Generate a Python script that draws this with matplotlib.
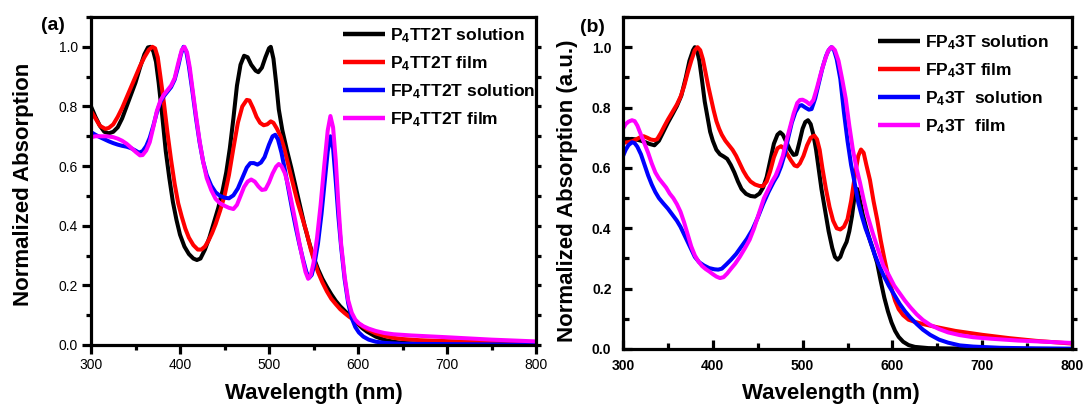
import numpy as np
import matplotlib
matplotlib.use("Agg")
import matplotlib.pyplot as plt
from matplotlib.ticker import MultipleLocator

plt.rcParams['font.family'] = ['Liberation Sans', 'DejaVu Sans']
plt.rcParams['mathtext.fontset'] = 'custom'
plt.rcParams['mathtext.rm'] = 'Liberation Sans:bold'
plt.rcParams['mathtext.bf'] = 'Liberation Sans:bold'
plt.rcParams['mathtext.it'] = 'Liberation Sans:bold'
plt.rcParams['mathtext.default'] = 'bf'

# ---------------- panel (a): P4TT2T / FP4TT2T ----------------
a_black_wl = [300, 305, 310, 315, 320, 325, 330, 335, 340, 345, 350, 355, 360, 364, 367, 370, 373, 376,
              380, 384, 388, 392, 396, 400, 405, 410, 415, 419, 423, 428, 433, 438, 443, 448, 452, 456,
              460, 464, 468, 472, 476, 480, 485, 488, 492, 496, 500, 502, 505, 508, 511, 515, 520, 525,
              530, 535, 540, 545, 550, 555, 560, 565, 570, 575, 580, 585, 590, 595, 600, 605, 610, 620,
              630, 640, 650, 670, 700, 750, 800]
a_black_ab = [0.80, 0.765, 0.735, 0.715, 0.71, 0.715, 0.73, 0.76, 0.80, 0.84, 0.88, 0.93, 0.975, 0.998, 1.0,
              0.985, 0.95, 0.88, 0.77, 0.65, 0.56, 0.48, 0.42, 0.37, 0.33, 0.305, 0.29, 0.285, 0.29, 0.32,
              0.36, 0.41, 0.46, 0.52, 0.58, 0.66, 0.76, 0.87, 0.94, 0.97, 0.965, 0.94, 0.92, 0.915, 0.93,
              0.965, 0.995, 1.0, 0.96, 0.88, 0.79, 0.72, 0.655, 0.595, 0.53, 0.465, 0.40, 0.345, 0.295,
              0.255, 0.222, 0.195, 0.17, 0.148, 0.13, 0.115, 0.10, 0.085, 0.07, 0.056, 0.045, 0.028, 0.017,
              0.011, 0.007, 0.004, 0.002, 0.001, 0.0]

a_red_wl = [300, 305, 310, 316, 320, 325, 330, 335, 340, 345, 350, 355, 360, 365, 369, 372, 375, 378, 382,
            386, 390, 394, 398, 402, 406, 410, 415, 420, 424, 428, 432, 436, 440, 445, 450, 455, 460, 465,
            470, 475, 478, 482, 486, 490, 494, 498, 502, 505, 509, 513, 517, 522, 527, 532, 537, 542, 547,
            551, 555, 560, 565, 570, 575, 580, 585, 590, 595, 600, 605, 610, 620, 630, 640, 650, 670, 700,
            750, 800]
a_red_ab = [0.785, 0.76, 0.735, 0.725, 0.728, 0.74, 0.765, 0.795, 0.83, 0.865, 0.90, 0.935, 0.965, 0.99, 1.0,
            0.995, 0.965, 0.90, 0.81, 0.71, 0.62, 0.54, 0.475, 0.43, 0.39, 0.36, 0.335, 0.32, 0.32, 0.33,
            0.35, 0.375, 0.405, 0.45, 0.50, 0.57, 0.66, 0.745, 0.80, 0.822, 0.82, 0.795, 0.765, 0.745,
            0.737, 0.74, 0.75, 0.745, 0.725, 0.70, 0.66, 0.60, 0.54, 0.48, 0.43, 0.38, 0.32, 0.28, 0.245,
            0.21, 0.18, 0.155, 0.137, 0.12, 0.107, 0.095, 0.085, 0.073, 0.063, 0.053, 0.039, 0.03, 0.024,
            0.02, 0.016, 0.013, 0.01, 0.008]

a_blue_wl = [300, 305, 310, 315, 320, 325, 330, 335, 340, 345, 350, 354, 358, 362, 366, 370, 374, 378, 382,
             386, 390, 394, 398, 401, 404, 407, 410, 414, 418, 422, 426, 430, 435, 440, 445, 450, 455, 460,
             465, 470, 475, 479, 483, 487, 491, 495, 500, 504, 507, 510, 514, 518, 522, 526, 530, 534, 538,
             542, 545, 548, 551, 555, 559, 563, 566, 569, 572, 575, 578, 581, 585, 589, 593, 597, 601, 606,
             612, 620, 630, 650, 700, 750, 800]
a_blue_ab = [0.714, 0.705, 0.697, 0.69, 0.683, 0.677, 0.672, 0.668, 0.665, 0.66, 0.652, 0.645, 0.65, 0.667,
             0.695, 0.735, 0.78, 0.815, 0.835, 0.85, 0.865, 0.89, 0.935, 0.975, 1.0, 0.985, 0.935, 0.85,
             0.76, 0.68, 0.615, 0.57, 0.535, 0.512, 0.50, 0.494, 0.492, 0.502, 0.525, 0.56, 0.595, 0.61,
             0.61, 0.605, 0.612, 0.63, 0.672, 0.70, 0.705, 0.69, 0.645, 0.585, 0.52, 0.455, 0.395, 0.34,
             0.29, 0.245, 0.225, 0.235, 0.27, 0.34, 0.44, 0.56, 0.65, 0.70, 0.66, 0.55, 0.43, 0.33, 0.22,
             0.14, 0.09, 0.06, 0.042, 0.028, 0.018, 0.011, 0.007, 0.004, 0.003, 0.002, 0.001]

a_mag_wl = [300, 305, 310, 318, 325, 330, 335, 340, 345, 350, 355, 358, 362, 366, 370, 374, 378, 382, 386,
            390, 394, 398, 402, 405, 408, 411, 414, 418, 422, 426, 430, 435, 440, 445, 450, 455, 460, 464,
            468, 472, 476, 480, 484, 488, 492, 496, 500, 504, 508, 511, 514, 518, 522, 526, 530, 534, 538,
            541, 544, 547, 550, 554, 558, 562, 566, 569, 572, 575, 578, 581, 585, 589, 593, 597, 601, 606,
            612, 620, 630, 640, 660, 700, 750, 800]
a_mag_ab = [0.697, 0.70, 0.70, 0.70, 0.697, 0.692, 0.685, 0.675, 0.662, 0.648, 0.636, 0.637, 0.652, 0.68,
            0.73, 0.785, 0.82, 0.84, 0.855, 0.87, 0.895, 0.945, 0.99, 1.0, 0.98, 0.93, 0.86, 0.77, 0.685,
            0.615, 0.56, 0.52, 0.49, 0.475, 0.467, 0.46, 0.456, 0.47, 0.50, 0.53, 0.548, 0.555, 0.548,
            0.532, 0.52, 0.522, 0.545, 0.575, 0.598, 0.607, 0.60, 0.575, 0.53, 0.47, 0.41, 0.345, 0.285,
            0.245, 0.222, 0.235, 0.275, 0.36, 0.47, 0.60, 0.72, 0.768, 0.73, 0.62, 0.47, 0.34, 0.23, 0.15,
            0.108, 0.085, 0.073, 0.063, 0.055, 0.047, 0.04, 0.036, 0.032, 0.026, 0.018, 0.012]

# ---------------- panel (b): FP43T / P43T ----------------
b_black_wl = [300, 305, 310, 315, 320, 325, 330, 335, 340, 345, 350, 355, 360, 365, 370, 374, 378, 380, 382,
              385, 388, 391, 394, 397, 400, 404, 408, 412, 416, 420, 424, 428, 432, 437, 442, 447, 452, 456,
              460, 464, 468, 472, 475, 478, 482, 486, 490, 493, 496, 500, 503, 506, 509, 512, 515, 518, 521,
              525, 529, 533, 536, 539, 542, 545, 549, 552, 555, 558, 561, 564, 567, 571, 575, 579, 583, 587,
              591, 595, 599, 603, 607, 612, 618, 625, 640, 660, 700, 800]
b_black_ab = [0.694, 0.695, 0.696, 0.694, 0.69, 0.685, 0.679, 0.675, 0.69, 0.72, 0.75, 0.777, 0.805, 0.84,
              0.90, 0.955, 0.99, 1.0, 0.995, 0.955, 0.89, 0.82, 0.77, 0.72, 0.69, 0.66, 0.645, 0.638, 0.63,
              0.61, 0.585, 0.555, 0.53, 0.514, 0.507, 0.505, 0.515, 0.535, 0.57, 0.625, 0.68, 0.71, 0.718,
              0.71, 0.685, 0.66, 0.643, 0.645, 0.68, 0.73, 0.752, 0.758, 0.745, 0.71, 0.66, 0.595, 0.53,
              0.46, 0.39, 0.335, 0.305, 0.296, 0.305, 0.33, 0.355, 0.39, 0.44, 0.51, 0.53, 0.49, 0.445, 0.40,
              0.36, 0.325, 0.285, 0.225, 0.17, 0.125, 0.088, 0.06, 0.04, 0.024, 0.013, 0.007, 0.003, 0.002,
              0.001, 0.0]

b_red_wl = [300, 305, 310, 315, 320, 323, 327, 331, 335, 338, 342, 346, 350, 355, 360, 364, 368, 372, 376,
            380, 383, 386, 389, 392, 395, 398, 401, 404, 407, 410, 414, 418, 422, 426, 430, 434, 438, 442,
            447, 452, 456, 460, 464, 468, 472, 476, 479, 483, 487, 491, 494, 497, 501, 505, 509, 513, 516,
            519, 522, 526, 530, 534, 538, 542, 546, 550, 554, 558, 562, 565, 568, 571, 575, 579, 583, 587,
            591, 595, 599, 603, 607, 612, 618, 625, 635, 650, 670, 700, 730, 760, 800]
b_red_ab = [0.683, 0.685, 0.688, 0.695, 0.703, 0.705, 0.70, 0.694, 0.692, 0.695, 0.715, 0.738, 0.76, 0.785,
            0.81, 0.835, 0.87, 0.915, 0.955, 0.99, 1.0, 0.99, 0.96, 0.915, 0.87, 0.83, 0.79, 0.755, 0.73,
            0.71, 0.69, 0.675, 0.66, 0.64, 0.615, 0.59, 0.57, 0.555, 0.545, 0.54, 0.54, 0.555, 0.59, 0.635,
            0.665, 0.672, 0.665, 0.645, 0.625, 0.608, 0.605, 0.615, 0.64, 0.675, 0.70, 0.707, 0.695, 0.66,
            0.60, 0.53, 0.47, 0.425, 0.40, 0.396, 0.405, 0.43, 0.49, 0.57, 0.64, 0.661, 0.65, 0.61, 0.56,
            0.49, 0.43, 0.36, 0.30, 0.245, 0.20, 0.16, 0.132, 0.112, 0.097, 0.09, 0.082, 0.072, 0.06, 0.047,
            0.036, 0.027, 0.018]

b_blue_wl = [300, 303, 306, 310, 313, 316, 320, 324, 328, 332, 336, 340, 345, 350, 355, 360, 364, 368, 372,
             376, 380, 385, 390, 396, 402, 406, 410, 415, 420, 426, 432, 438, 444, 450, 456, 462, 468, 472,
             476, 480, 484, 488, 492, 496, 499, 503, 507, 510, 514, 518, 522, 526, 529, 532, 535, 538, 542,
             546, 550, 554, 558, 562, 566, 570, 575, 580, 585, 590, 596, 602, 608, 614, 620, 627, 634, 642,
             652, 662, 675, 690, 720, 760, 800]
b_blue_ab = [0.639, 0.66, 0.675, 0.685, 0.682, 0.67, 0.645, 0.61, 0.575, 0.545, 0.52, 0.50, 0.482, 0.465,
             0.445, 0.425, 0.405, 0.38, 0.355, 0.33, 0.305, 0.287, 0.277, 0.268, 0.264, 0.263, 0.266, 0.28,
             0.295, 0.315, 0.34, 0.365, 0.395, 0.435, 0.48, 0.52, 0.555, 0.575, 0.605, 0.645, 0.70, 0.75,
             0.785, 0.805, 0.808, 0.80, 0.793, 0.795, 0.83, 0.88, 0.93, 0.97, 0.99, 1.0, 0.99, 0.96, 0.895,
             0.785, 0.69, 0.61, 0.55, 0.485, 0.44, 0.40, 0.36, 0.315, 0.278, 0.245, 0.21, 0.18, 0.15, 0.125,
             0.104, 0.083, 0.064, 0.047, 0.031, 0.021, 0.012, 0.008, 0.004, 0.002, 0.001]

b_mag_wl = [300, 303, 306, 310, 313, 316, 320, 324, 328, 332, 336, 340, 344, 348, 352, 356, 360, 364, 368,
            372, 376, 380, 384, 388, 392, 396, 400, 404, 408, 412, 416, 420, 425, 430, 436, 441, 446, 452,
            457, 462, 466, 470, 474, 478, 482, 486, 490, 494, 497, 500, 504, 508, 512, 516, 520, 524, 528,
            531, 533, 536, 540, 544, 548, 552, 556, 560, 564, 568, 572, 578, 584, 590, 596, 602, 608, 614,
            620, 627, 634, 642, 652, 662, 675, 690, 710, 740, 770, 800]
b_mag_ab = [0.73, 0.745, 0.753, 0.758, 0.755, 0.74, 0.71, 0.68, 0.65, 0.615, 0.585, 0.565, 0.55, 0.535,
            0.515, 0.50, 0.48, 0.455, 0.42, 0.38, 0.34, 0.31, 0.29, 0.275, 0.265, 0.257, 0.248, 0.24, 0.235,
            0.238, 0.25, 0.265, 0.283, 0.305, 0.335, 0.362, 0.40, 0.455, 0.50, 0.53, 0.555, 0.575, 0.605,
            0.64, 0.69, 0.735, 0.78, 0.815, 0.825, 0.826, 0.82, 0.81, 0.825, 0.865, 0.91, 0.95, 0.985,
            0.998, 1.0, 0.99, 0.955, 0.895, 0.83, 0.74, 0.66, 0.60, 0.55, 0.495, 0.445, 0.385, 0.33, 0.275,
            0.245, 0.21, 0.185, 0.16, 0.138, 0.115, 0.096, 0.08, 0.066, 0.055, 0.046, 0.039, 0.034, 0.028,
            0.024, 0.02]

labels_a = [r'P$_4$TT2T solution', r'P$_4$TT2T film', r'FP$_4$TT2T solution', r'FP$_4$TT2T film']
labels_b = [r'FP$_4$3T solution', r'FP$_4$3T film', r'P$_4$3T  solution', r'P$_4$3T  film']
colors = ['#000000', '#ff0000', '#0000ff', '#ff00ff']

W, H = 1084, 408
fig = plt.figure(figsize=(W / 100, H / 100), dpi=100)
ax_a = fig.add_axes([91 / W, (H - 345) / H, 445 / W, 328 / H])
ax_b = fig.add_axes([623 / W, (H - 349) / H, 449 / W, 332 / H])

LW = 2.9
SPW = 2.3

series_a = [(a_black_wl, a_black_ab), (a_red_wl, a_red_ab), (a_blue_wl, a_blue_ab), (a_mag_wl, a_mag_ab)]
series_b = [(b_black_wl, b_black_ab), (b_red_wl, b_red_ab), (b_blue_wl, b_blue_ab), (b_mag_wl, b_mag_ab)]

for ax, series, labels in ((ax_a, series_a, labels_a), (ax_b, series_b, labels_b)):
    for (wl, ab), c, lab in zip(series, colors, labels):
        ax.plot(wl, ab, color=c, lw=LW, label=lab, solid_joinstyle='round', solid_capstyle='butt')
    ax.set_xlim(300, 800)
    ax.set_ylim(0, 1.1)
    ax.xaxis.set_major_locator(MultipleLocator(100))
    ax.xaxis.set_minor_locator(MultipleLocator(50))
    ax.set_yticks([0.0, 0.2, 0.4, 0.6, 0.8, 1.0])
    ax.yaxis.set_minor_locator(MultipleLocator(0.1))
    for s in ax.spines.values():
        s.set_linewidth(SPW)
    # short ticks on the right spine
    axr = ax.twinx()
    axr.set_ylim(0, 1.1)
    axr.set_yticks(np.arange(0, 1.05, 0.1))
    axr.tick_params(axis='y', direction='out', length=3.5, width=SPW, labelright=False)
    axr.spines[:].set_visible(False)

# panel (a): outward ticks, regular tick labels
ax_a.tick_params(which='major', direction='out', length=6.5, width=SPW, labelsize=10, pad=3)
ax_a.tick_params(which='minor', direction='out', length=3.8, width=SPW)
ax_a.tick_params(top=False, right=False)

# panel (b): inward ticks, bold tick labels
ax_b.tick_params(which='major', direction='in', length=6.5, width=SPW, labelsize=10, pad=7.5)
ax_b.tick_params(which='minor', direction='in', length=4.3, width=SPW)
ax_b.tick_params(axis='y', which='major', pad=8.3)
ax_b.tick_params(top=False, right=False)
for t in ax_b.get_xticklabels() + ax_b.get_yticklabels():
    t.set_fontweight('bold')

lab_kw = dict(fontsize=16, fontweight='bold')
ax_a.set_xlabel('Wavelength (nm)', **lab_kw)
ax_a.set_ylabel('Normalized Absorption', **lab_kw)
ax_a.xaxis.set_label_coords(0.501, -0.116)
ax_a.yaxis.set_label_coords(-0.128, 0.49)

ax_b.set_xlabel('Wavelength (nm)', **lab_kw)
ax_b.set_ylabel('Normalized Absorption (a.u.)', **lab_kw)
ax_b.xaxis.set_label_coords(0.4626, -0.102)
ax_b.yaxis.set_label_coords(-0.10, 0.478)

leg_kw = dict(loc='upper left', frameon=False, borderpad=0, borderaxespad=0, handlelength=2.4,
              handletextpad=0.3, labelspacing=0.52, prop={'weight': 'bold', 'size': 12.6})
leg_a = ax_a.legend(bbox_to_anchor=((343 - 91) / 445, (345 - 26.5) / 328), **leg_kw)
leg_b = ax_b.legend(bbox_to_anchor=((878 - 623) / 449, (349 - 33.5) / 332), **leg_kw)
for leg in (leg_a, leg_b):
    for ln in leg.get_lines():
        ln.set_linewidth(3.2)

fig.text(53 / W, 1 - 26 / H, '(a)', fontsize=14, fontweight='bold', ha='center', va='center')
fig.text(592 / W, 1 - 28 / H, '(b)', fontsize=14, fontweight='bold', ha='center', va='center')

fig.savefig('out.png', dpi=100)
